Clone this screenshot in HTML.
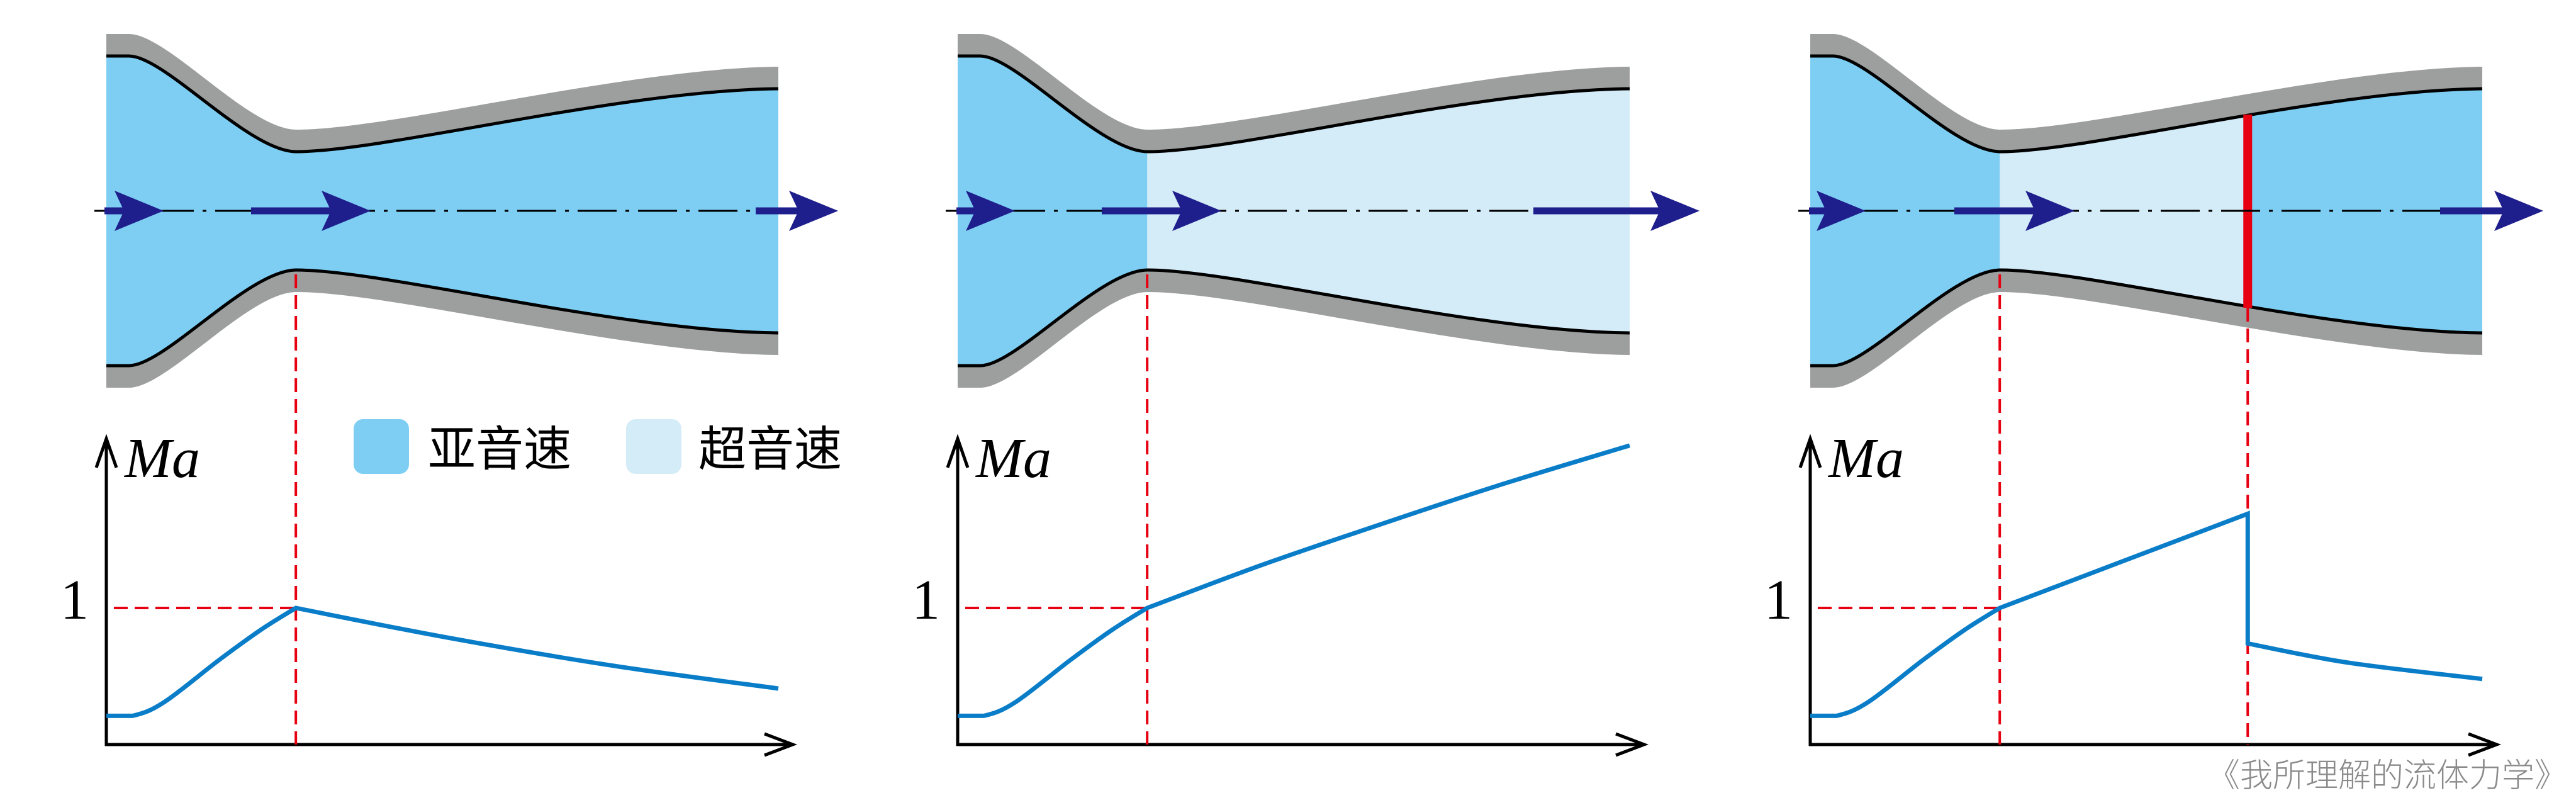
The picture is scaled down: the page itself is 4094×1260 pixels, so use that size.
<!DOCTYPE html>
<html><head><meta charset="utf-8">
<style>
html,body{margin:0;padding:0;background:#fff;}
svg{display:block;}
text{font-family:"Liberation Serif","Noto Serif CJK SC",serif;}
.cjk{font-family:"Liberation Sans","Noto Sans CJK SC",sans-serif;}
</style></head>
<body>
<svg id="fig" xmlns="http://www.w3.org/2000/svg" width="4094" height="1260" viewBox="0 0 4094 1260">
<defs></defs>
<g id="legend">
  <rect x="562" y="666" width="88" height="87" rx="15" fill="#7ecef3"/>
  <text class="cjk" x="680" y="740" font-size="76" fill="#000">亚音速</text>
  <rect x="995" y="666" width="88" height="87" rx="15" fill="#d4ebf8"/>
  <text class="cjk" x="1110" y="740" font-size="76" fill="#000">超音速</text>
</g>
<text class="cjk" x="4080" y="1250" font-size="52" font-weight="300" fill="#8a8a8a" text-anchor="end">《我所理解的流体力学》</text>
</svg>
<script>
var panelNames = ['subsonic-nozzle', 'supersonic-nozzle', 'shock-nozzle'];
var inletPos = [0, 0.039, 0.086, 0.168, 0.23, 0.282];
var inletMa  = [0.21, 0.21, 0.31, 0.62, 0.84, 1.0];
var panel1Pos = [0.282, 0.5, 0.75, 1.0];
var panel1Ma  = [1.0, 0.79, 0.58, 0.41];
var panel2Pos = [0.282, 0.45, 0.61, 0.8, 1.0];
var panel2Ma  = [1.0, 1.31, 1.58, 1.89, 2.19];
var panel3aPos = [0.282, 0.651];
var panel3aMa  = [1.0, 1.69];
var panel3bPos = [0.651, 0.8, 1.0];
var panel3bMa  = [0.74, 0.6, 0.48];
var throatPos = 0.282;
var shockPos = 0.651;
var machTicks = [1];

var NS = 'http://www.w3.org/2000/svg';
var svg = document.getElementById('fig');
var offsets = [0, 1353, 2708];
var X0 = 169, X1 = 1237, Y0 = 1183, PXMA = 217;
function xs(p){ return X0 + p*(X1-X0); }
function ys(m){ return Y0 - m*PXMA; }
function mk(tag, attrs, parent){
  var e = document.createElementNS(NS, tag);
  for (var k in attrs) e.setAttribute(k, attrs[k]);
  (parent||svg).appendChild(e); return e;
}
function smooth(P, M, move){
  var p = [];
  for (var j=0;j<P.length;j++) p.push([xs(P[j]), ys(M[j])]);
  var d = (move ? 'M' : 'L') + p[0][0].toFixed(1)+','+p[0][1].toFixed(1);
  for (var j=0;j<p.length-1;j++){
    var a = p[j-1]||p[j], b=p[j], c=p[j+1], e=p[j+2]||p[j+1];
    var c1 = [b[0]+(c[0]-a[0])/6, b[1]+(c[1]-a[1])/6];
    var c2 = [c[0]-(e[0]-b[0])/6, c[1]-(e[1]-b[1])/6];
    if (j===0 && P.length>2 && M[0]===M[1]) { c1=[b[0]+(c[0]-b[0])/3,b[1]]; c2=[c[0]-(c[0]-b[0])/3,c[1]]; }
    d += ' C'+c1[0].toFixed(1)+','+c1[1].toFixed(1)+' '+c2[0].toFixed(1)+','+c2[1].toFixed(1)+' '+c[0].toFixed(1)+','+c[1].toFixed(1);
  }
  return d;
}
var CY = 335;
var innerTop = 'M169,89 L205,89 C262,89 395,241 471,241 C610,241 990,143 1237,141';
var outerTop = 'M169,54 L205,54 C266,54 395,206 471,206 C620,206 1000,108 1237,106';
var segments = [
  [[panel1Pos, panel1Ma]],
  [[panel2Pos, panel2Ma]],
  [[panel3aPos, panel3aMa], [panel3bPos, panel3bMa]]
];

for (var i=0;i<3;i++){
  var g = mk('g', {transform:'translate('+offsets[i]+',0)'});
  
  
  var wall = mk('path', {d: outerTop + ' L1237,564 C1000,562 620,464 471,464 C395,464 266,616 205,616 L169,616 Z', fill:'#9d9e9e'}, g);
  
  
  var fluidD = innerTop + ' L1237,529 C990,527 610,429 471,429 C395,429 262,581 205,581 L169,581 Z';
  var clip = mk('clipPath', {id:'clip'+i}, svg.querySelector('defs'));
  mk('path', {d: fluidD}, clip);
  var fluid = mk('g', {'clip-path':'url(#clip'+i+')'}, g);
  
  
  mk('rect', {x:169, y:0, width:1068, height:700, fill:'#7ecef3'}, fluid);
  if (i===1){
    var sup = mk('rect', {x:xs(throatPos), y:0, width:X1-xs(throatPos), height:700, fill:'#d4ebf8'}, fluid);
    
    
  }
  if (i===2){
    var sup2 = mk('rect', {x:xs(throatPos), y:0, width:xs(shockPos)-xs(throatPos), height:700, fill:'#d4ebf8'}, fluid);
    
    
  }
  var lt = mk('path', {d: innerTop, fill:'none', stroke:'#000', 'stroke-width':5}, g);
  
  
  var lb = mk('path', {d: 'M169,581 L205,581 C262,581 395,429 471,429 C610,429 990,527 1237,529', fill:'none', stroke:'#000', 'stroke-width':5}, g);
  
  
  if (i===2){
    var sh = mk('line', {x1:xs(shockPos), y1:182, x2:xs(shockPos), y2:489, stroke:'#e60012', 'stroke-width':14}, g);
    
    
  }
  var cl = mk('line', {x1:150, y1:CY, x2:1320, y2:CY, stroke:'#000', 'stroke-width':3, 'stroke-dasharray':'62 14 6 14'}, g);
  
  
  var arrs = [[[166,260],[399,589],[1201,1332]], [[167,260],[398,588],[1084,1348]], [[167,257],[398,589],[1170,1334]]][i];
  for (var a=0;a<3;a++){
    var s=arrs[a][0], t=arrs[a][1];
    var ag = mk('g', {}, g);
    
    
    mk('rect', {x:s, y:CY-5.5, width:(t-63)-s+4, height:11, fill:'#1e1e8c'}, ag);
    mk('polygon', {points:(t-78)+','+(CY-32)+' '+t+','+CY+' '+(t-78)+','+(CY+32)+' '+(t-63)+','+CY, fill:'#1e1e8c'}, ag);
  }
  var ax = mk('g', {fill:'none', stroke:'#000', 'stroke-width':5}, g);
  
  
  mk('line', {x1:169, y1:Y0+2, x2:169, y2:697}, ax);
  mk('polyline', {points:'153,743 169,697 185,743'}, ax);
  mk('line', {x1:167, y1:Y0, x2:1258, y2:Y0}, ax);
  mk('polyline', {points:'1215,1166 1260,1183 1215,1200'}, ax);
  var ma = mk('text', {x:198, y:758, 'font-size':90, 'font-style':'italic'}, g);
  ma.textContent = 'Ma';
  
  
  for (var k=0;k<machTicks.length;k++){
    var tl = mk('text', {x:141, y:ys(machTicks[k])+17, 'font-size':90, 'text-anchor':'end'}, g);
    tl.textContent = String(machTicks[k]);
    
    
  }
  var gd = mk('g', {fill:'none', stroke:'#e60012', 'stroke-width':4, 'stroke-dasharray':'22 11'}, g);
  
  
  mk('line', {x1:181, y1:ys(1), x2:xs(throatPos), y2:ys(1)}, gd);
  mk('line', {x1:xs(throatPos), y1:436, x2:xs(throatPos), y2:Y0}, gd);
  if (i===2) mk('line', {x1:xs(shockPos), y1:489, x2:xs(shockPos), y2:Y0}, gd);
  var d = smooth(inletPos, inletMa, true);
  var segs = segments[i];
  for (var sI=0; sI<segs.length; sI++) d += ' ' + smooth(segs[sI][0], segs[sI][1], false);
  var cv = mk('path', {d:d, fill:'none', stroke:'#0a7dc8', 'stroke-width':7, 'stroke-linejoin':'miter'}, g);
  
  
}
svg.appendChild(document.getElementById('legend'));
</script>
</body></html>
